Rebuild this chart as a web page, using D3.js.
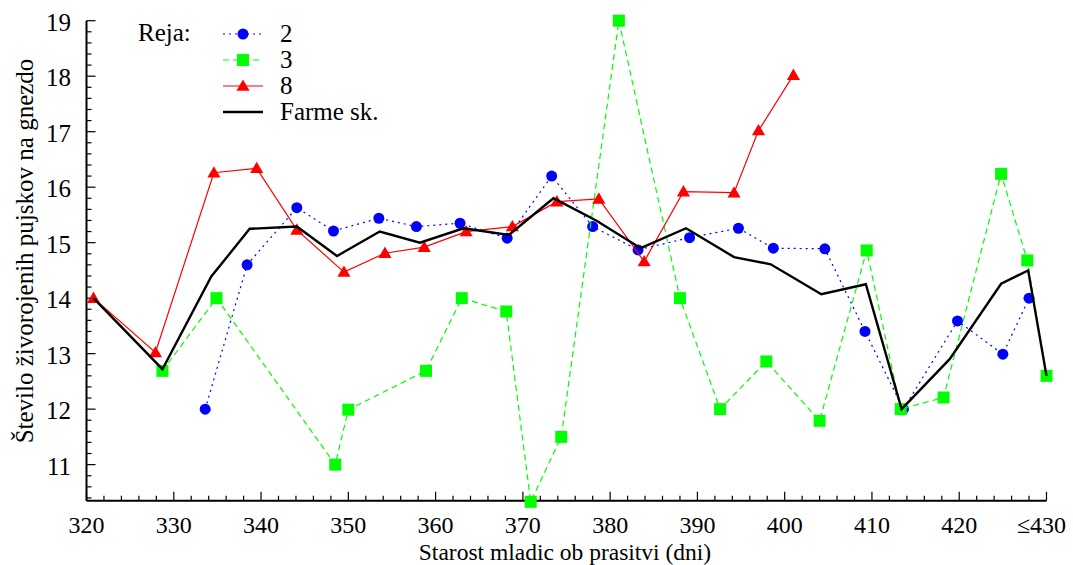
<!DOCTYPE html>
<html><head><meta charset="utf-8">
<script src="https://cdn.jsdelivr.net/npm/d3@7"></script>
<style>body{margin:0;background:#fff}svg{display:block}</style>
</head><body>
<script>
const xTicks=[320,330,340,350,360,370,380,390,400,410,420,430];
const xTickLabels=["320","330","340","350","360","370","380","390","400","410","420","≤430"];
const yTicks=[11,12,13,14,15,16,17,18,19];
const seriesNames=["2","3","8","Farme sk."];
const x2=[333.6,338.4,344.1,348.3,353.5,357.8,362.8,368.2,373.3,378.0,383.2,389.1,394.7,398.7,404.6,409.2,413.6,419.8,425.0,428.0];
const y2=[12.0,14.60,15.63,15.21,15.44,15.29,15.35,15.08,16.20,15.29,14.87,15.09,15.26,14.90,14.89,13.40,12.0,13.59,12.99,14.0];
const x3=[328.7,334.9,348.5,350.0,358.9,363.0,368.1,370.9,374.4,381.0,388.0,392.6,397.9,404.0,409.4,413.3,418.2,424.8,427.8,430.0];
const y3=[12.69,14.0,11.0,11.99,12.69,14.0,13.76,10.33,11.50,19.0,14.0,12.0,12.86,11.79,14.86,12.0,12.21,16.24,14.68,12.60];
const x8=[320.8,327.9,334.6,339.5,344.1,349.5,354.2,358.7,363.5,368.8,373.9,378.7,383.9,388.4,394.2,397.0,401.0];
const y8=[14.0,13.02,16.26,16.34,15.23,14.47,14.81,14.92,15.20,15.29,15.74,15.79,14.66,15.92,15.90,17.02,18.02];
const xF=[320.8,328.7,334.3,338.7,344.1,348.7,353.6,358.2,363.2,368.4,373.5,378.4,383.5,388.7,394.2,398.4,404.2,409.3,413.4,418.9,424.8,427.9,430.0];
const yF=[14.0,12.72,14.39,15.25,15.29,14.76,15.20,15.0,15.26,15.14,15.80,15.40,14.90,15.26,14.74,14.61,14.07,14.25,12.0,12.90,14.26,14.50,12.60];

const W=1073,H=565;
const FONT="'Liberation Serif'";
const FS=25;
const svg=d3.select("body").append("svg").attr("width",W).attr("height",H);
const txt=(sel)=>sel.attr("font-family",FONT).attr("font-size",FS).attr("fill","#000");
const x=d3.scaleLinear().domain([320,430]).range([86.5,1046.5]);
const y=d3.scaleLinear().domain([10.35,19]).range([500.7,20.7]);

// axes
const ax=svg.append("g");
ax.append("line").attr("x1",x(320)).attr("x2",x(430)).attr("y1",y(10.35)).attr("y2",y(10.35)).attr("stroke","#000").attr("stroke-width",2);
ax.append("line").attr("x1",x(320)).attr("x2",x(320)).attr("y1",y(10.35)).attr("y2",y(19)).attr("stroke","#000").attr("stroke-width",2);
const xMinor=d3.range(320,430.01,2);
ax.selectAll(".xt").data(xMinor).enter().append("line")
  .attr("x1",d=>x(d)).attr("x2",d=>x(d)).attr("y1",y(10.35))
  .attr("y2",d=>y(10.35)-((d%10===0)?9:5)).attr("stroke","#000").attr("stroke-width",1.2);
const yMinor=d3.range(10.4,19.001,0.2).map(v=>Math.round(v*10)/10);
ax.selectAll(".yt").data(yMinor).enter().append("line")
  .attr("y1",d=>y(d)).attr("y2",d=>y(d)).attr("x1",x(320))
  .attr("x2",d=>x(320)+((Math.abs(d-Math.round(d))<1e-6)?9:5)).attr("stroke","#000").attr("stroke-width",1.2);
ax.selectAll(".xl").data(xTicks).enter().append("text").call(txt).attr("font-size",24)
  .attr("x",(d,i)=>x(d)+(i===xTicks.length-1?-5:0)).attr("y",533).attr("text-anchor","middle")
  .text((d,i)=>xTickLabels[i]);
ax.selectAll(".yl").data(yTicks).enter().append("text").call(txt)
  .attr("x",71).attr("y",d=>y(d)+10).attr("text-anchor","end")
  .text(d=>d);
svg.append("text").call(txt).attr("font-size",23.5).attr("x",565).attr("y",559.5).attr("text-anchor","middle").text("Starost mladic ob prasitvi (dni)");
svg.append("text").call(txt).attr("transform","translate(33,251) rotate(-90)").attr("text-anchor","middle").text("Število živorojenih pujskov na gnezdo");

const line=d3.line().x(d=>x(d[0])).y(d=>y(d[1]));
const zip=(a,b)=>a.map((v,i)=>[v,b[i]]);
const d2=zip(x2,y2),d3s=zip(x3,y3),d8=zip(x8,y8),dF=zip(xF,yF);
const tri=d3.symbol().type(d3.symbolTriangle).size(75);

function drawCircles(g,data){g.selectAll("c").data(data).enter().append("circle").attr("cx",d=>x(d[0])).attr("cy",d=>y(d[1])).attr("r",5.5).attr("fill","#0000ff");}
function drawSquares(g,data){g.selectAll("r").data(data).enter().append("rect").attr("x",d=>x(d[0])-6).attr("y",d=>y(d[1])-6).attr("width",12).attr("height",12).attr("fill","#00ff00");}
function drawTris(g,data){g.selectAll("t").data(data).enter().append("path").attr("d",tri).attr("transform",d=>"translate("+x(d[0])+","+(y(d[1])+1)+")").attr("fill","#ff0000");}

const gB=svg.append("g");
gB.append("path").attr("d",line(d2)).attr("fill","none").attr("stroke","#0000ff").attr("stroke-width",1.2).attr("stroke-dasharray","2,4");
drawCircles(gB,d2);
const gG=svg.append("g");
gG.append("path").attr("d",line(d3s)).attr("fill","none").attr("stroke","#00ff00").attr("stroke-width",1.2).attr("stroke-dasharray","6,4");
drawSquares(gG,d3s);
const gR=svg.append("g");
gR.append("path").attr("d",line(d8)).attr("fill","none").attr("stroke","#ff0000").attr("stroke-width",1.2);
drawTris(gR,d8);
svg.append("path").attr("d",line(dF)).attr("fill","none").attr("stroke","#000").attr("stroke-width",2.4);

// legend
const lg=svg.append("g");
lg.append("text").call(txt).attr("x",138).attr("y",41).text("Reja:");
const ly=[34,60,86,112];
const styles=[{c:"#0000ff",da:"2,4",w:1.2},{c:"#00ff00",da:"6,4",w:1.2},{c:"#ff0000",da:null,w:1.2},{c:"#000",da:null,w:2.4}];
seriesNames.forEach((n,i)=>{
  const l=lg.append("line").attr("x1",223).attr("x2",263).attr("y1",ly[i]).attr("y2",ly[i]).attr("stroke",styles[i].c).attr("stroke-width",styles[i].w);
  if(styles[i].da)l.attr("stroke-dasharray",styles[i].da);
  lg.append("text").call(txt).attr("x",280).attr("y",ly[i]+8).text(n);
});
lg.append("circle").attr("cx",243).attr("cy",ly[0]).attr("r",5.5).attr("fill","#0000ff");
lg.append("rect").attr("x",237).attr("y",ly[1]-6).attr("width",12).attr("height",12).attr("fill","#00ff00");
lg.append("path").attr("d",tri).attr("transform","translate(243,"+(ly[2]+1)+")").attr("fill","#ff0000");
</script>
</body></html>
